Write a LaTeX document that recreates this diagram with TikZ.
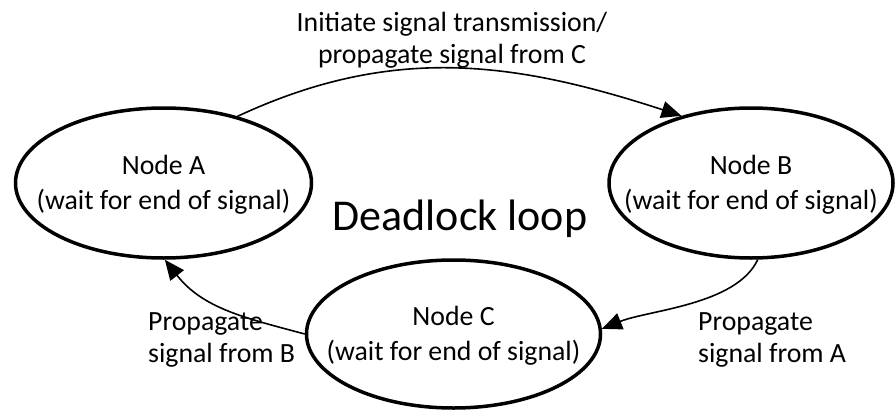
\documentclass[tikz,border=0pt]{standalone}
\usepackage{fontspec}
\setmainfont{Carlito}
\usetikzlibrary{shapes.geometric,arrows.meta}
\begin{document}
\begin{tikzpicture}[x=1pt,y=-1pt,
  state/.style={draw,ellipse,line width=3.5pt,inner sep=0pt},
  stext/.style={align=center,inner sep=0pt,font=\fontsize{27.8}{35}\selectfont},
  lbl/.style={font=\fontsize{27.8}{32}\selectfont,inner sep=0pt},
  edge/.style={line width=1.6pt,-{Triangle[length=20pt,width=17pt]}}]
\useasboundingbox (0,0) rectangle (896,412);

% the three waiting nodes
\node[state,minimum width=296pt,minimum height=150pt] (A) at (163.5,183) {};
\node[state,minimum width=284pt,minimum height=150pt] (B) at (751,183) {};
\node[state,minimum width=294pt,minimum height=148pt] (C) at (453.5,334) {};
\node[stext] (At) at (163.5,185) {Node A\\(wait for end of signal)};
\node[stext] (Bt) at (751,185) {Node B\\(wait for end of signal)};
\node[stext] (Ct) at (453.5,336) {Node C\\(wait for end of signal)};

\node[font=\fontsize{44}{50}\selectfont,inner sep=0pt,anchor=base] (D) at (460,230) {Deadlock loop};

% signal propagation around the loop
\draw[edge] (A.42) to[out=25,in=162] (B.136);
\draw[edge] (B.275) to[out=-115,in=22,looseness=0.75] (C.2);
\draw[edge] (C.180) to[out=165,in=-52] (A.271);

\node[lbl,align=center,anchor=north] (t1) at (452,12) {Initiate signal transmission/\\propagate signal from C};
\node[lbl,align=left,anchor=north west] (t2) at (148,312) {Propagate\\signal from B};
\node[lbl,align=left,anchor=north west] (t3) at (698,312) {Propagate\\signal from A};
\end{tikzpicture}
\end{document}
